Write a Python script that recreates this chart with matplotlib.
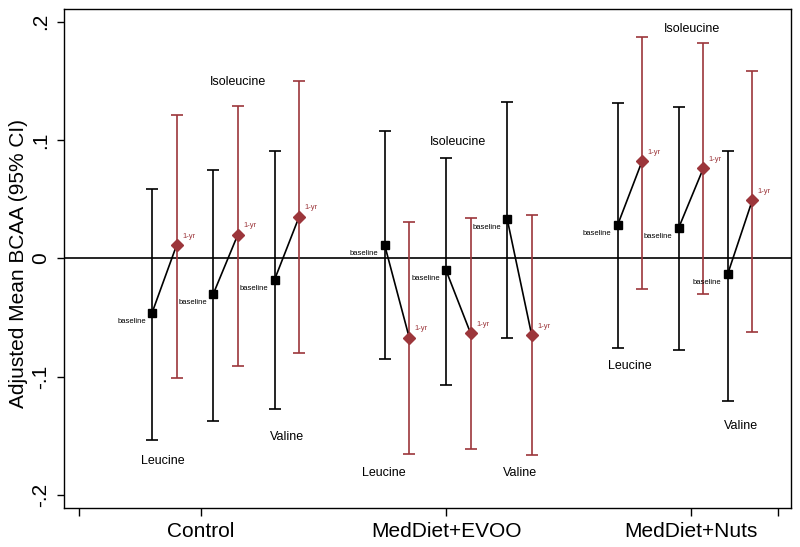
import numpy as np
import matplotlib
matplotlib.use("Agg")
import matplotlib.pyplot as plt

plt.rcParams['font.family'] = ['Liberation Sans', 'DejaVu Sans']

groups = ['Control', 'MedDiet+EVOO', 'MedDiet+Nuts']
amino = ['Leucine', 'Isoleucine', 'Valine']

# adjusted means and 95% CI, rows = diet group, cols = amino acid
base_mean = [[-0.046, -0.030, -0.018], [0.011, -0.010, 0.033], [0.028, 0.026, -0.013]]
base_lo = [[-0.153, -0.137, -0.127], [-0.085, -0.107, -0.067], [-0.076, -0.077, -0.120]]
base_hi = [[0.059, 0.075, 0.091], [0.108, 0.085, 0.132], [0.131, 0.128, 0.091]]
yr1_mean = [[0.011, 0.020, 0.035], [-0.067, -0.063, -0.065], [0.082, 0.076, 0.049]]
yr1_lo = [[-0.101, -0.091, -0.080], [-0.165, -0.161, -0.166], [-0.026, -0.030, -0.062]]
yr1_hi = [[0.121, 0.129, 0.150], [0.031, 0.034, 0.037], [0.187, 0.182, 0.158]]

# x position of the baseline estimate; 1-yr sits 0.1 to the right
x_base = [[0.80, 1.05, 1.30], [1.75, 2.00, 2.25], [2.70, 2.95, 3.15]]
yr1_shift = 0.1

# where the amino acid names are written
label_x = [[0.846, 1.151, 1.350], [1.748, 2.050, 2.302], [2.751, 3.003, 3.203]]
label_y = [[-0.171, 0.149, -0.151], [-0.181, 0.098, -0.181], [-0.091, 0.194, -0.1415]]

red = '#9c363b'

fig = plt.figure(figsize=(8, 5.47), dpi=100)
ax = fig.add_axes([0.0804, 0.0708, 0.908, 0.9134])

ax.axhline(0, color='black', lw=1.2, zorder=1)

for g in range(len(groups)):
    for a in range(len(amino)):
        xb = x_base[g][a]
        xy = xb + yr1_shift
        bm, ym = base_mean[g][a], yr1_mean[g][a]
        ax.errorbar(xb, bm, yerr=[[bm - base_lo[g][a]], [base_hi[g][a] - bm]],
                    fmt='none', ecolor='black', elinewidth=1.2, capsize=4.5,
                    capthick=1.2, zorder=2)
        ax.errorbar(xy, ym, yerr=[[ym - yr1_lo[g][a]], [yr1_hi[g][a] - ym]],
                    fmt='none', ecolor=red, elinewidth=1.2, capsize=4.5,
                    capthick=1.2, zorder=2)
        ax.plot([xb, xy], [bm, ym], color='black', lw=1.2, zorder=3)
        ax.plot(xb, bm, 's', color='black', ms=6, zorder=4)
        ax.plot(xy, ym, 'D', color=red, ms=6.5, zorder=4)
        ax.annotate('baseline', (xb, bm), xytext=(-4.5, -6), textcoords='offset points',
                    ha='right', va='center', fontsize=5.5, color='black')
        ax.annotate('1-yr', (xy, ym), xytext=(4, 6.5), textcoords='offset points',
                    ha='left', va='center', fontsize=5.5, color=red)
        ax.text(label_x[g][a], label_y[g][a], amino[a], ha='center', va='center',
                fontsize=9, color='black')

ax.set_xlim(0.442, 3.407)
ax.set_ylim(-0.211, 0.211)

ax.set_xticks([0.5, 1, 2, 3, 3.354])
ax.set_xticklabels(['', groups[0], groups[1], groups[2], ''], fontsize=15)
ax.set_yticks([-0.2, -0.1, 0, 0.1, 0.2])
ax.set_yticklabels(['-.2', '-.1', '0', '.1', '.2'], fontsize=15, rotation=90, va='center')
ax.tick_params(axis='x', length=6, width=1, pad=4)
ax.tick_params(axis='y', length=5, width=1, pad=5)

ax.set_ylabel('Adjusted Mean BCAA (95% CI)', fontsize=15)
ax.yaxis.set_label_coords(-0.050, 0.49)

for s in ax.spines.values():
    s.set_linewidth(1.0)

fig.savefig('out.png', dpi=100)
